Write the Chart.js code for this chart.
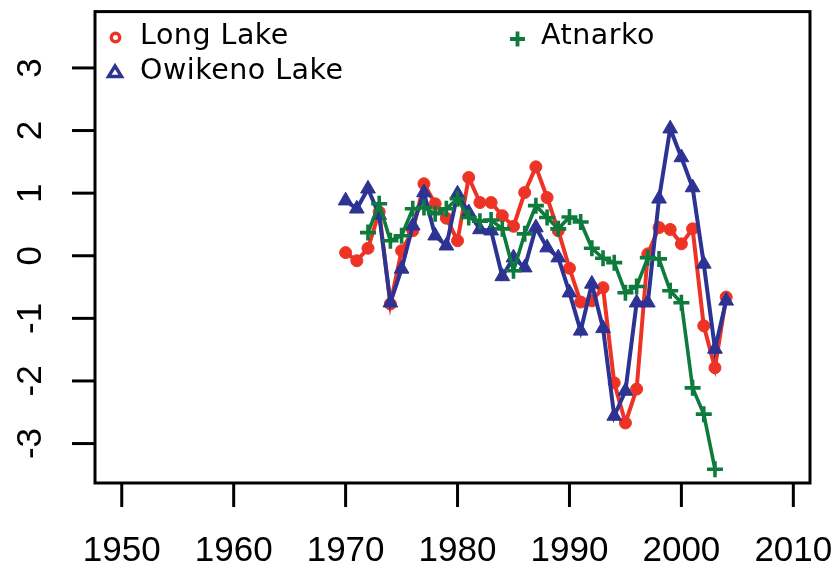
<!DOCTYPE html>
<html>
<head>
<meta charset="utf-8">
<script src="https://cdn.jsdelivr.net/npm/chart.js@4"></script>
<style>
  html, body { margin: 0; padding: 0; background: #fff; }
  canvas { display: block; }
</style>
</head>
<body>
<canvas id="chart" width="837" height="567"></canvas>
<script>
// Data
const years = [1970, 1971, 1972, 1973, 1974, 1975, 1976, 1977, 1978, 1979,
               1980, 1981, 1982, 1983, 1984, 1985, 1986, 1987, 1988, 1989,
               1990, 1991, 1992, 1993, 1994, 1995, 1996, 1997, 1998, 1999,
               2000, 2001, 2002, 2003, 2004];
const longLake = [0.05, -0.08, 0.12, 0.70, -0.77, 0.08, 0.40, 1.15, 0.83, 0.60,
                  0.24, 1.25, 0.85, 0.85, 0.64, 0.47, 1.01, 1.42, 0.93, 0.40,
                  -0.20, -0.74, -0.72, -0.51, -2.03, -2.67, -2.13, 0.03, 0.45, 0.42,
                  0.19, 0.43, -1.12, -1.79, -0.66];
const owikenoLake = [0.88, 0.75, 1.07, 0.65, -0.75, -0.21, 0.48, 1.01, 0.32, 0.16,
                     0.99, 0.69, 0.42, 0.40, -0.33, -0.03, -0.19, 0.45, 0.13, -0.03,
                     -0.59, -1.20, -0.45, -1.16, -2.56, -2.16, -0.75, -0.75, 0.91, 2.03,
                     1.57, 1.09, -0.13, -1.49, -0.72];
const atnarko = [null, null, 0.37, 0.83, 0.24, 0.32, 0.75, 0.77, 0.67, 0.75,
                 0.91, 0.61, 0.55, 0.57, 0.43, -0.24, 0.35, 0.80, 0.61, 0.43,
                 0.62, 0.54, 0.12, -0.04, -0.11, -0.59, -0.49, -0.03, -0.05, -0.56,
                 -0.75, -2.11, -2.53, -3.41, null];
const xTicks = [1950, 1960, 1970, 1980, 1990, 2000, 2010];
const yTicks = [-3, -2, -1, 0, 1, 2, 3];

const RED = '#ec3326';
const BLUE = '#2d3392';
const GREEN = '#0e7a3c';

const toPoints = vals => years.map((y, i) => ({ x: y, y: vals[i] }));

// R-style box, outward ticks, rotated y labels, and the in-plot legend
const rStyle = {
    id: 'rStyle',
    afterDraw(chart) {
        const { ctx, chartArea: a, scales } = chart;
        ctx.save();
        ctx.strokeStyle = '#000';
        ctx.lineWidth = 3;
        ctx.strokeRect(a.left, a.top, a.right - a.left, a.bottom - a.top);

        ctx.fillStyle = '#000';
        ctx.font = '35px "Liberation Sans", Arial, sans-serif';
        ctx.textAlign = 'center';
        ctx.textBaseline = 'middle';
        xTicks.forEach(v => {
            const px = scales.x.getPixelForValue(v);
            ctx.beginPath();
            ctx.moveTo(px, a.bottom);
            ctx.lineTo(px, a.bottom + 24);
            ctx.stroke();
            ctx.fillText(String(v), px, 551);
        });
        yTicks.forEach(v => {
            const py = scales.y.getPixelForValue(v);
            ctx.beginPath();
            ctx.moveTo(a.left - 23, py);
            ctx.lineTo(a.left, py);
            ctx.stroke();
            ctx.save();
            ctx.translate(31, py);
            ctx.rotate(-Math.PI / 2);
            ctx.fillText(String(v), 0, 0);
            ctx.restore();
        });

        // legend
        ctx.font = '28.5px "DejaVu Sans", sans-serif';
        ctx.letterSpacing = '0.5px';
        ctx.textAlign = 'left';
        ctx.fillText('Long Lake', 140, 37);
        ctx.fillText('Owikeno Lake', 140, 72);
        ctx.fillText('Atnarko', 541, 37);

        ctx.lineWidth = 3.4;
        ctx.strokeStyle = RED;
        ctx.beginPath();
        ctx.arc(115.5, 37.5, 4.2, 0, Math.PI * 2);
        ctx.stroke();

        ctx.strokeStyle = BLUE;
        ctx.beginPath();
        ctx.moveTo(115, 66);
        ctx.lineTo(121.5, 76.5);
        ctx.lineTo(108.5, 76.5);
        ctx.closePath();
        ctx.stroke();

        ctx.strokeStyle = GREEN;
        ctx.lineWidth = 3.8;
        ctx.beginPath();
        ctx.moveTo(510, 39);
        ctx.lineTo(525, 39);
        ctx.moveTo(517.5, 31.5);
        ctx.lineTo(517.5, 46.5);
        ctx.stroke();
        ctx.restore();
    }
};

new Chart(document.getElementById('chart'), {
    type: 'line',
    data: {
        datasets: [
            {
                label: 'Atnarko',
                data: toPoints(atnarko),
                borderColor: GREEN,
                backgroundColor: GREEN,
                borderWidth: 3.6,
                pointStyle: 'cross',
                pointRadius: 8,
                pointBorderWidth: 3.6,
                spanGaps: false,
                tension: 0
            },
            {
                label: 'Owikeno Lake',
                data: toPoints(owikenoLake),
                borderColor: BLUE,
                backgroundColor: BLUE,
                borderWidth: 4,
                pointStyle: 'triangle',
                pointRadius: 8.5,
                pointBorderWidth: 1,
                tension: 0
            },
            {
                label: 'Long Lake',
                data: toPoints(longLake),
                borderColor: RED,
                backgroundColor: RED,
                borderWidth: 4,
                pointStyle: 'circle',
                pointRadius: 6,
                pointBorderWidth: 1,
                tension: 0
            }
        ]
    },
    options: {
        responsive: false,
        animation: false,
        events: [],
        layout: { padding: { left: 95, right: 27, top: 10, bottom: 84 } },
        scales: {
            x: { type: 'linear', min: 1947.61, max: 2011.49, display: false },
            y: { type: 'linear', min: -3.63, max: 3.90, display: false }
        },
        plugins: {
            legend: { display: false },
            tooltip: { enabled: false }
        }
    },
    plugins: [rStyle]
});
</script>
</body>
</html>
